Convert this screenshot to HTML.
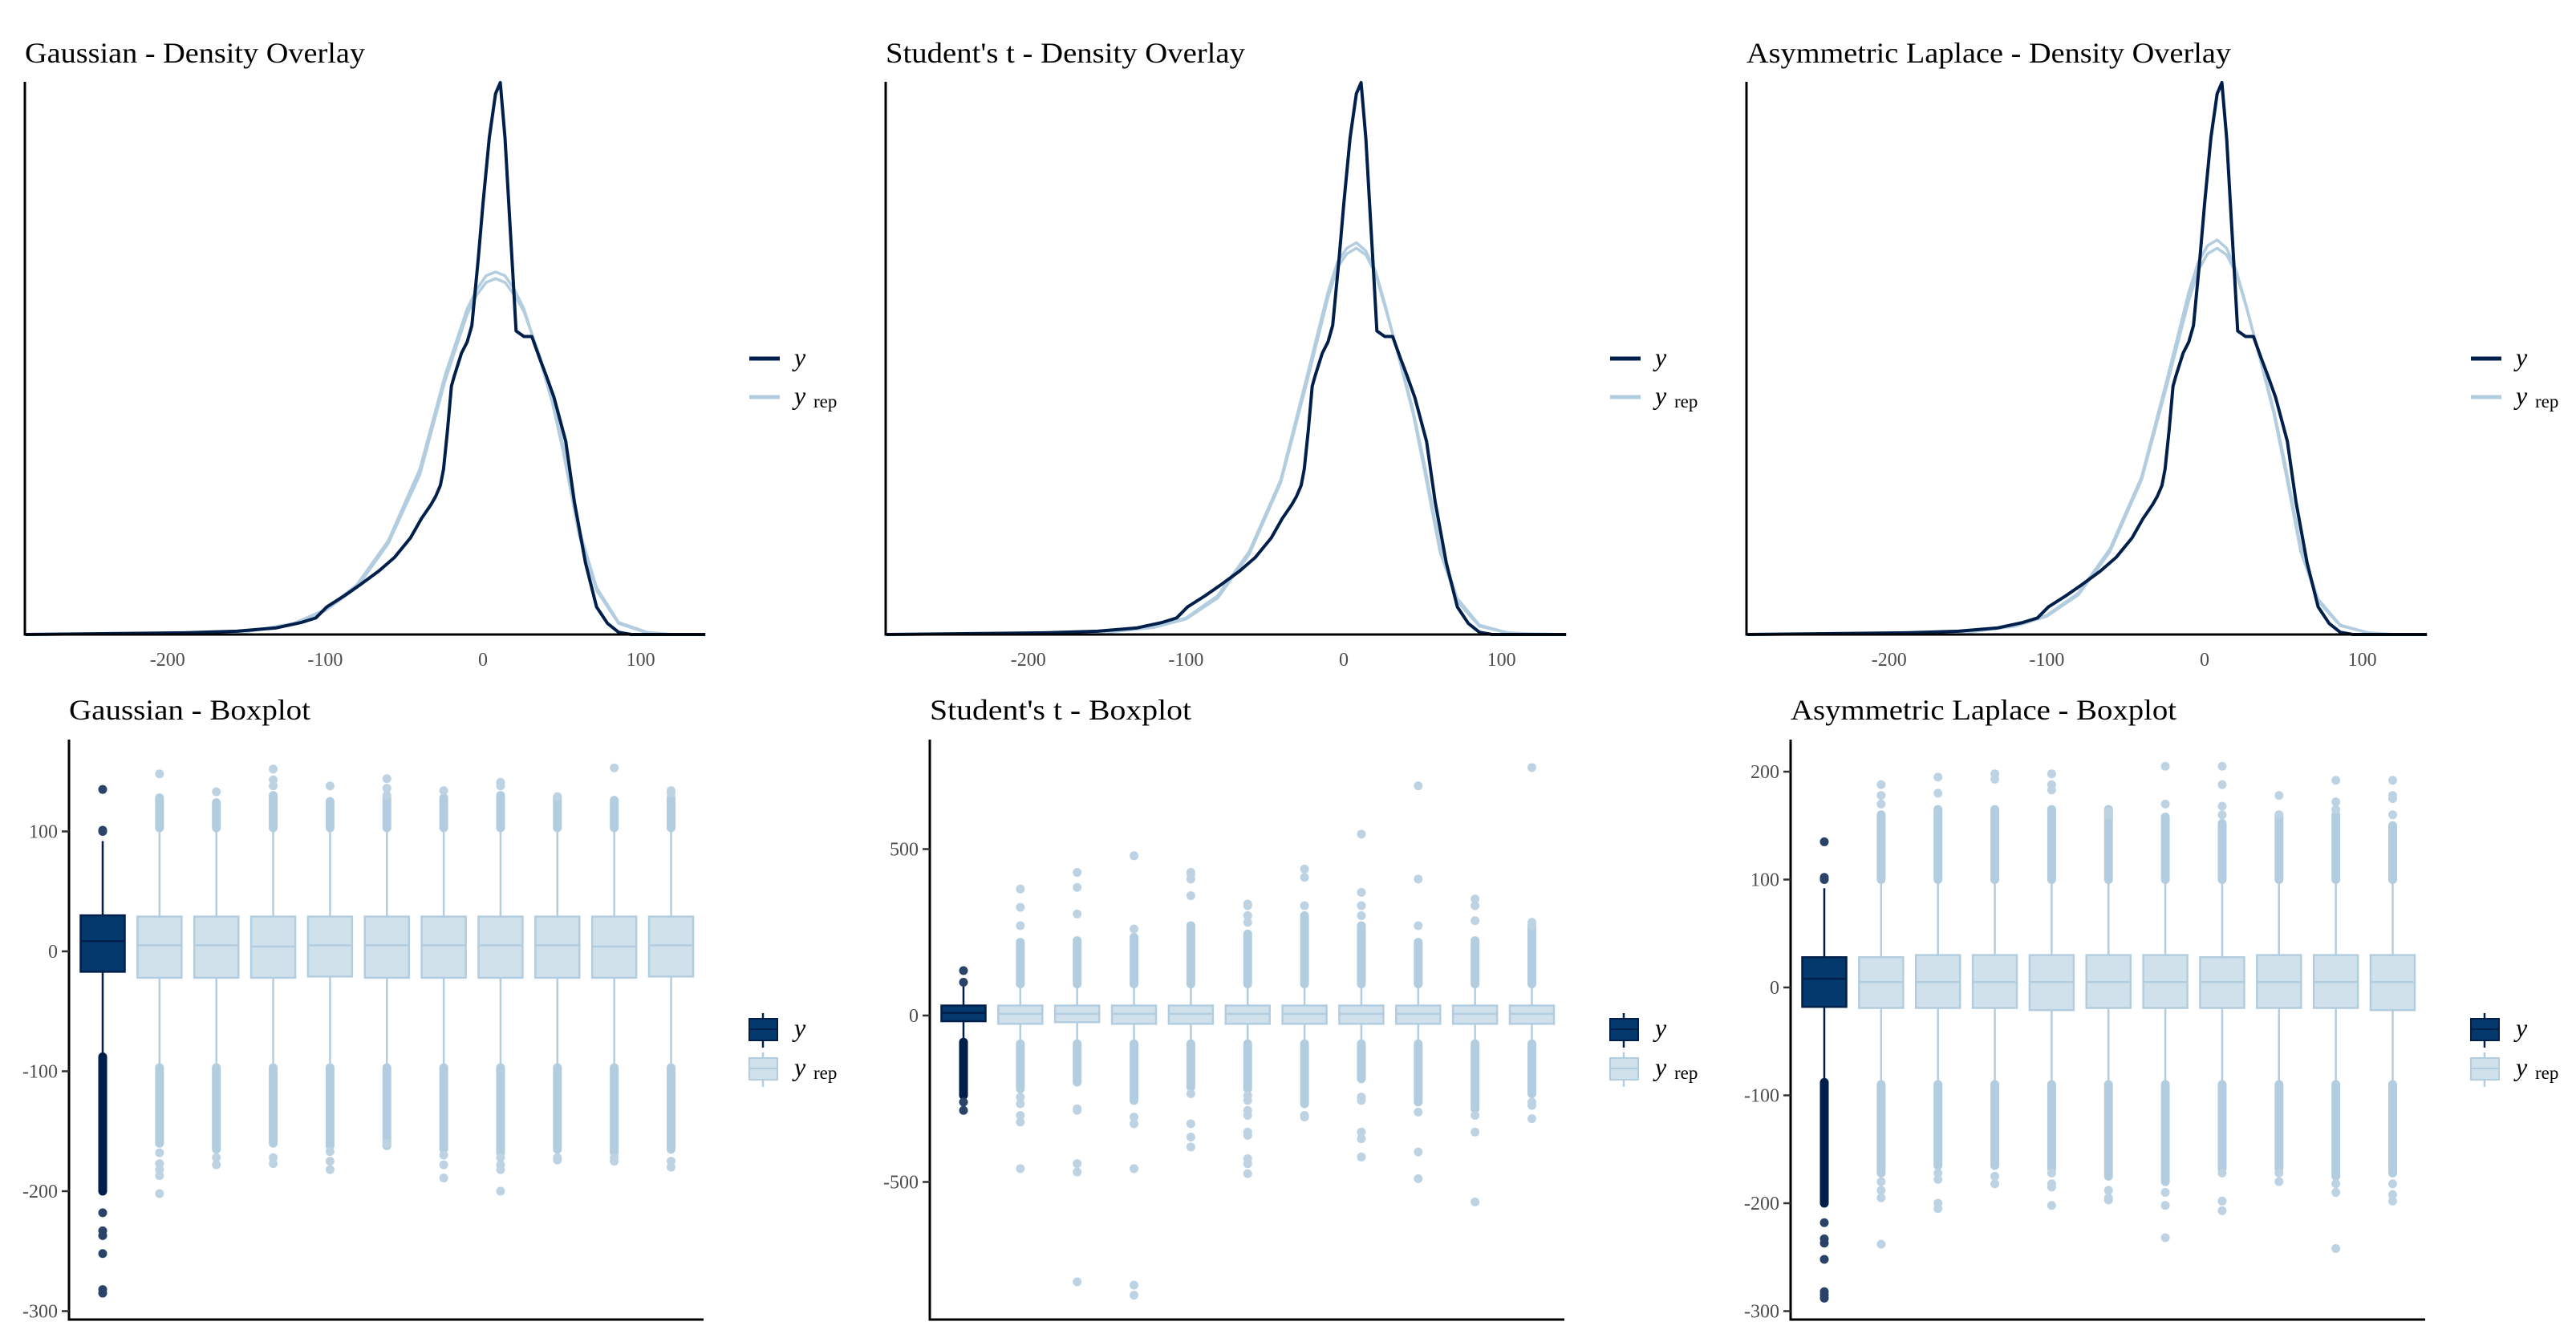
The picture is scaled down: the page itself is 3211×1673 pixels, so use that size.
<!DOCTYPE html>
<html><head><meta charset="utf-8">
<style>
html,body{margin:0;padding:0;background:#fff;}
svg{display:block;font-family:"Liberation Serif",serif;}
</style></head>
<body>
<svg id="chart" width="3211" height="1673" viewBox="0 0 3211 1673" xmlns="http://www.w3.org/2000/svg"></svg>
<script>
// ---------- data ----------
const panelTitlesDensity = ["Gaussian - Density Overlay","Student's t - Density Overlay","Asymmetric Laplace - Density Overlay"];
const panelTitlesBox = ["Gaussian - Boxplot","Student's t - Boxplot","Asymmetric Laplace - Boxplot"];
const densityTicks = [-200,-100,0,100];
// observed density (x values and normalized heights)
const yDensX = [-290,-189,-156,-131,-115,-106,-99,-88,-78,-66,-56,-46,-39,-33,-30,-27,-25,-22.5,-20,-18,-13.6,-10,-7,-3,0,4,8,11,14,17,19,21,26,31,36,40,45,52.5,58,65,72,79,86,94,141];
const yDensH = [0,0.003,0.006,0.012,0.022,0.03,0.05,0.07,0.09,0.115,0.14,0.175,0.21,0.235,0.25,0.27,0.3,0.37,0.45,0.47,0.51,0.53,0.56,0.68,0.78,0.9,0.98,1.0,0.9,0.75,0.65,0.55,0.54,0.54,0.5,0.47,0.43,0.35,0.24,0.13,0.05,0.02,0.004,0,0];
// replicated densities
const repDensX = [-290,-190,-150,-120,-100,-80,-60,-40,-24,-10,-4,2,8,14,20,26,36,44,51,61,72,86,104,120,141];
const repGaussA = [0,0.001,0.005,0.02,0.045,0.09,0.17,0.3,0.47,0.59,0.625,0.65,0.657,0.65,0.625,0.59,0.5,0.42,0.33,0.18,0.08,0.02,0.003,0,0];
const repGaussB = [0,0.001,0.005,0.02,0.043,0.085,0.165,0.29,0.46,0.58,0.615,0.638,0.645,0.638,0.615,0.585,0.505,0.425,0.34,0.19,0.085,0.022,0.004,0,0];
const repStudA = [0,0.001,0.004,0.014,0.03,0.07,0.15,0.28,0.46,0.62,0.675,0.70,0.71,0.695,0.66,0.6,0.49,0.4,0.3,0.15,0.06,0.015,0.003,0.001,0];
const repStudB = [0,0.001,0.004,0.013,0.028,0.066,0.145,0.275,0.45,0.61,0.665,0.69,0.70,0.688,0.655,0.595,0.495,0.405,0.31,0.16,0.065,0.017,0.003,0.001,0];
const repAsymA = [0,0.001,0.004,0.016,0.035,0.075,0.155,0.285,0.46,0.62,0.675,0.705,0.715,0.70,0.66,0.6,0.49,0.4,0.3,0.15,0.06,0.016,0.003,0,0];
const repAsymB = [0,0.001,0.004,0.015,0.033,0.072,0.15,0.28,0.45,0.605,0.66,0.69,0.70,0.688,0.655,0.598,0.495,0.405,0.31,0.158,0.064,0.017,0.003,0,0];

// boxplot stats: [q1, median, q3, whiskerLo, whiskerHi]
const boxTicks = [[100,0,-100,-200,-300],[500,0,-500],[200,100,0,-100,-200,-300]];
const boxStatsGauss = [[-17,8.5,30,-88,92],[-22,5,29,-97,103],[-22,5,29,-97,103],[-22,4,29,-97,103],[-21,5,29,-97,103],[-22,5,29,-97,103],[-22,5,29,-97,103],[-22,5,29,-97,103],[-22,5,29,-97,103],[-22,4,29,-97,103],[-21,5,29,-97,103]];
const denseGauss = [[-88,-200,null,null],[-97,-160,103,128],[-97,-165,103,124],[-97,-160,103,130],[-97,-162,103,125],[-97,-162,103,128],[-97,-165,103,128],[-97,-168,103,130],[-97,-165,103,128],[-97,-168,103,126],[-97,-165,103,128]];
const sparseGauss = [[-218,-233,-237,-252,-282,-285,100,101,135],[-168,-177,-182,-187,-202,148],[-172,-178,133],[-172,-177,138,143,152],[-167,-175,-182,138],[-160,144,136,130],[-170,-178,-189,134],[-172,-178,-182,-200,138,141],[-172,-174,129],[-172,-175,153],[-175,-180,132,134]];

const boxStatsStud = [[-17,8,30,-80,90],[-25,5,30,-85,95],[-20,5,30,-85,95],[-25,5,30,-85,95],[-25,5,30,-85,95],[-25,5,30,-85,95],[-25,5,30,-85,95],[-25,5,30,-85,95],[-25,5,30,-85,95],[-25,5,30,-85,95],[-25,5,30,-85,95]];
const denseStud = [[-80,-240,null,null],[-85,-220,95,220],[-85,-200,95,225],[-85,-255,95,235],[-85,-215,95,270],[-85,-220,95,245],[-85,-265,95,300],[-85,-190,95,270],[-85,-260,95,220],[-85,-280,95,225],[-85,-235,95,270]];
const sparseStud = [[-260,-285,100,135],[-245,-265,-300,-320,-460,270,325,380],[-280,-285,-445,-470,-800,305,385,430],[-305,-325,-460,-810,-840,260,480],[-235,-325,-365,-395,360,410,425,430],[-240,-255,-285,-300,-350,-360,-430,-445,-475,280,300,330,335],[-300,-305,330,415,440],[-245,-255,-350,-370,-425,300,330,370,545],[-290,-410,-490,270,410,690],[-300,-350,-560,285,330,350],[-260,-270,-310,270,280,745]];

const boxStatsAsym = [[-18,8,28,-88,92],[-19,5,28,-90,100],[-19,5,30,-90,100],[-19,5,30,-90,100],[-21,5,30,-90,100],[-19,5,30,-90,100],[-19,5,30,-90,100],[-19,5,28,-90,100],[-19,5,30,-90,100],[-19,5,30,-90,100],[-21,5,30,-90,100]];
const denseAsym = [[-88,-200,null,null],[-90,-172,100,160],[-90,-165,100,165],[-90,-165,100,165],[-90,-168,100,165],[-90,-175,100,165],[-90,-180,100,158],[-90,-168,100,152],[-90,-168,100,160],[-90,-175,100,160],[-90,-172,100,150]];
const sparseAsym = [[-218,-233,-237,-252,-282,-285,-288,100,102,135],[-180,-188,-195,-238,170,178,188],[-172,-178,-200,-205,180,195],[-175,-182,193,198],[-172,-182,-185,-202,183,188,198],[-188,-195,-197,160,163],[-190,-202,-232,170,205],[-172,-198,-207,160,168,188,205],[-172,-180,160,178],[-182,-190,-242,165,172,192],[-182,-192,-198,160,175,178,192]];

// ---------- drawing ----------
const NS = "http://www.w3.org/2000/svg";
const svg = document.getElementById("chart");
function mk(tag, attrs, parent){
  const e = document.createElementNS(NS, tag);
  for (const k in attrs) e.setAttribute(k, attrs[k]);
  (parent||svg).appendChild(e);
  return e;
}
const NAVY="#011f4b", DARKFILL="#03396c", REP="#b3cde0", REPFILL="#d1e1ec", TICK="#4d4d4d";
const OFF = 1073;
const densTitleLen=[424,448,604];
const boxTitleLen=[301,326,481];

// density panels
const repSets = [[repGaussA,repGaussB],[repStudA,repStudB],[repAsymA,repAsymB]];
for (let p=0;p<3;p++){
  const ox = p*OFF;
  const g = mk("g",{});
  
  
  const xs = v => 602+ox+v*1.966;
  const ys = h => 791 - h*688;
  const t = mk("text",{x:31+ox,y:78,"font-size":36,fill:"#000",textLength:densTitleLen[p],lengthAdjust:"spacingAndGlyphs"},g);
  t.textContent = panelTitlesDensity[p];
  
  
  repSets[p].forEach((arr,k)=>{
    const d = repDensX.map((x,i)=>(i?"L":"M")+xs(x).toFixed(1)+","+ys(arr[i]).toFixed(1)).join(" ");
    const pa = mk("path",{d:d,fill:"none",stroke:REP,"stroke-width":3.5,"stroke-linejoin":"round"},g);
    
    
  });
  const d = yDensX.map((x,i)=>(i?"L":"M")+xs(x).toFixed(1)+","+ys(yDensH[i]).toFixed(1)).join(" ");
  const yl = mk("path",{d:d,fill:"none",stroke:NAVY,"stroke-width":4,"stroke-linejoin":"round"},g);
  
  
  const ax = mk("path",{d:`M${31+ox},102 L${31+ox},791 L${879+ox},791`,fill:"none",stroke:"#000","stroke-width":3},g);
  
  
  densityTicks.forEach(v=>{
    const tk = mk("text",{x:xs(v),y:830,"font-size":24,fill:TICK,"text-anchor":"middle"},g);
    tk.textContent = v;
    
    
  });
  const lg = mk("g",{},g);
  
  
  mk("line",{x1:934+ox,x2:972+ox,y1:447,y2:447,stroke:NAVY,"stroke-width":5},lg);
  mk("line",{x1:934+ox,x2:972+ox,y1:495,y2:495,stroke:REP,"stroke-width":5},lg);
  const l1 = mk("text",{x:990+ox,y:456,"font-size":32,"font-style":"italic"},lg); l1.textContent="y";
  
  
  const l2 = mk("text",{x:990+ox,y:504,"font-size":32,"font-style":"italic"},lg); l2.textContent="y";
  
  
  const l3 = mk("text",{x:1014+ox,y:508,"font-size":23},lg); l3.textContent="rep";
}

// box panels
const boxData = [[boxStatsGauss,denseGauss,sparseGauss],[boxStatsStud,denseStud,sparseStud],[boxStatsAsym,denseAsym,sparseAsym]];
const yZero = [1186,1266,1231];
const yPer = [1.495,0.415,1.345];
for (let p=0;p<3;p++){
  const ox = p*OFF;
  const L = 86+ox;
  const g = mk("g",{});
  
  
  const ys = v => yZero[p] - v*yPer[p];
  const xc = i => L+42+i*70.85;
  const t = mk("text",{x:L,y:897,"font-size":36,fill:"#000",textLength:boxTitleLen[p],lengthAdjust:"spacingAndGlyphs"},g);
  t.textContent = panelTitlesBox[p];
  
  
  const [stats,dense,sparse] = boxData[p];
  stats.forEach((s,i)=>{
    const isY = i===0;
    const col = isY?NAVY:REP, fill = isY?DARKFILL:REPFILL;
    const bg = mk("g",{},g);
    
    
    const cx = xc(i), w = 55;
    mk("line",{x1:cx,x2:cx,y1:ys(s[4]),y2:ys(s[0]),stroke:col,"stroke-width":2.5},bg);
    mk("line",{x1:cx,x2:cx,y1:ys(s[2]),y2:ys(s[3]),stroke:col,"stroke-width":2.5},bg);
    const dn = dense[i];
    const dc = isY?NAVY:REP;
    if (dn[0]!==null) mk("line",{x1:cx,x2:cx,y1:ys(dn[0]),y2:ys(dn[1]),stroke:dc,"stroke-width":11,"stroke-linecap":"round"},bg);
    if (dn[2]!==null) mk("line",{x1:cx,x2:cx,y1:ys(dn[2]),y2:ys(dn[3]),stroke:dc,"stroke-width":11,"stroke-linecap":"round"},bg);
    sparse[i].forEach(v=>{
      mk("circle",{cx:cx,cy:ys(v),r:5.5,fill:isY?"#2a4368":"#bdd3e4"},bg);
    });
    mk("rect",{x:cx-w/2,y:ys(s[2]),width:w,height:ys(s[0])-ys(s[2]),fill:fill,stroke:col,"stroke-width":2.5},bg);
    mk("line",{x1:cx-w/2,x2:cx+w/2,y1:ys(s[1]),y2:ys(s[1]),stroke:isY?NAVY:REP,"stroke-width":2.5},bg);
  });
  const ax = mk("path",{d:`M${L},922 L${L},1645 L${L+791},1645`,fill:"none",stroke:"#000","stroke-width":3},g);
  
  
  boxTicks[p].forEach(v=>{
    mk("line",{x1:L-9,x2:L,y1:ys(v),y2:ys(v),stroke:"#333","stroke-width":2.5},g);
    const tk = mk("text",{x:L-14,y:ys(v)+8,"font-size":24,fill:TICK,"text-anchor":"end"},g);
    tk.textContent = v;
    
    
  });
  const lg = mk("g",{},g);
  
  
  const kx = 934+ox;
  mk("line",{x1:kx+17,x2:kx+17,y1:1263,y2:1306,stroke:NAVY,"stroke-width":2.5},lg);
  mk("rect",{x:kx,y:1270,width:35,height:27,fill:DARKFILL,stroke:NAVY,"stroke-width":2},lg);
  mk("line",{x1:kx,x2:kx+35,y1:1283,y2:1283,stroke:NAVY,"stroke-width":2},lg);
  mk("line",{x1:kx+17,x2:kx+17,y1:1312,y2:1355,stroke:REP,"stroke-width":2.5},lg);
  mk("rect",{x:kx,y:1319,width:35,height:27,fill:REPFILL,stroke:REP,"stroke-width":2},lg);
  mk("line",{x1:kx,x2:kx+35,y1:1332,y2:1332,stroke:REP,"stroke-width":2},lg);
  const l1 = mk("text",{x:990+ox,y:1292,"font-size":32,"font-style":"italic"},lg); l1.textContent="y";
  
  
  const l2 = mk("text",{x:990+ox,y:1341,"font-size":32,"font-style":"italic"},lg); l2.textContent="y";
  
  
  const l3 = mk("text",{x:1014+ox,y:1345,"font-size":23},lg); l3.textContent="rep";
}
</script>
</body></html>
